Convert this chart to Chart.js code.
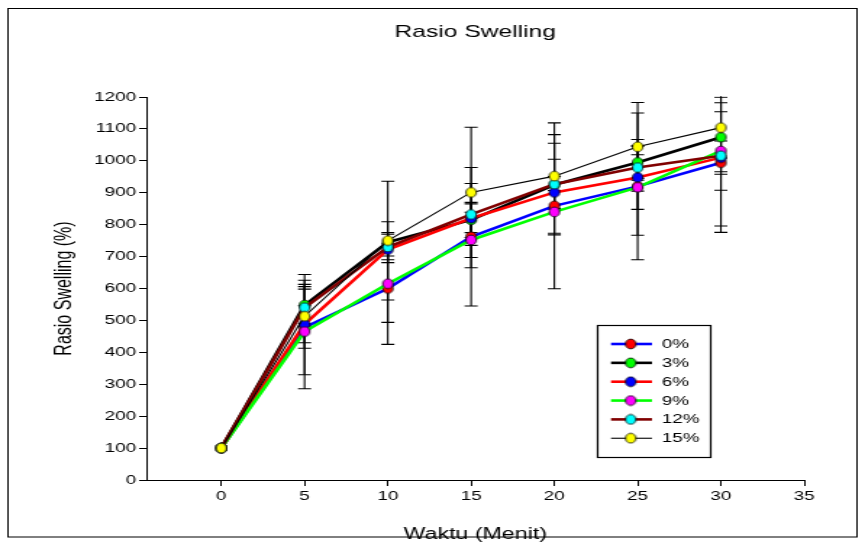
<!DOCTYPE html>
<html>
<head>
<meta charset="utf-8">
<script src="https://cdn.jsdelivr.net/npm/chart.js@4/dist/chart.umd.min.js"></script>
<style>
  html, body { margin: 0; padding: 0; background: #fff; overflow: hidden; }
  #wrap { width: 865px; height: 543px; overflow: hidden; position: relative; }
  #c { position: absolute; left: 0; top: 0; width: 597px; height: 543px; transform-origin: 0 0; transform: scaleX(1.448911); }
</style>
</head>
<body>
<div id="wrap"><canvas id="c" width="597" height="543"></canvas></div>
<script>
// ---------- data ----------
const chartTitle = 'Rasio Swelling';
const xTitle = 'Waktu (Menit)';
const yTitle = 'Rasio Swelling (%)';
const categories = [0, 5, 10, 15, 20, 25, 30];
const seriesNames = ['0%', '3%', '6%', '9%', '12%', '15%'];
const s0  = [100, 478, 600, 762, 859, 920, 994];
const s3  = [100, 548, 745, 815, 925, 995, 1074];
const s6  = [100, 488, 722, 820, 901, 948, 1010];
const s9  = [100, 465, 615, 752, 840, 917, 1031];
const s12 = [100, 540, 730, 832, 927, 979, 1016];
const s15 = [100, 513, 750, 901, 952, 1044, 1104];
const e0  = [0, 148, 175, 217, 260, 230, 218];
const e3  = [0, 58, 64, 55, 157, 50, 108];
const e6  = [0, 58, 20, 45, 50, 100, 52];
const e9  = [0, 179, 121, 87, 67, 150, 123];
const e12 = [0, 58, 40, 97, 78, 40, 220];
const e15 = [0, 100, 186, 204, 103, 139, 95];
const xTicks = [0, 5, 10, 15, 20, 25, 30, 35];
const yTicks = [0, 100, 200, 300, 400, 500, 600, 700, 800, 900, 1000, 1100, 1200];

const seriesValues = [s0, s3, s6, s9, s12, s15];
const seriesErrors = [e0, e3, e6, e9, e12, e15];

// ---------- styles ----------
const K = 865 / 597;          // horizontal stretch of the whole picture
const F = "'Liberation Sans', Arial, Helvetica, sans-serif";
const lineColors   = ['#0000ff', '#000000', '#ff0000', '#00ff00', '#800000', '#000000'];
const markerColors = ['#ff0000', '#00ff00', '#0000ff', '#ff00ff', '#00ffff', '#ffff00'];
const lineWidths   = [2.6, 2.6, 2.6, 2.6, 2.6, 1.1];

function markerImg(fill) {
  const c = document.createElement('canvas');
  c.width = 12; c.height = 12;
  const g = c.getContext('2d');
  g.beginPath();
  g.ellipse(6, 6, 5.2 / K, 4.9, 0, 0, Math.PI * 2);
  g.fillStyle = fill; g.fill();
  g.lineWidth = 0.8; g.strokeStyle = '#000'; g.stroke();
  return c;
}
const markers = markerColors.map(markerImg);

const datasets = seriesNames.map((name, i) => ({
  label: name,
  data: categories.map((x, j) => ({ x: x, y: seriesValues[i][j] })),
  borderColor: lineColors[i],
  borderWidth: lineWidths[i],
  pointStyle: markers[i],
  pointRadius: 5,
  tension: 0,
  fill: false,
  order: seriesNames.length - 1 - i
}));

const CAP = 4.5;
const errPlugin = {
  id: 'errbars',
  beforeDatasetsDraw(chart) {
    const { ctx, chartArea: a, scales: { x, y } } = chart;
    ctx.save();
    ctx.beginPath();
    ctx.rect(a.left, a.top - 0.6, a.right - a.left, a.bottom - a.top + 1.2);
    ctx.clip();
    ctx.strokeStyle = '#000';
    ctx.lineWidth = 1.1;
    seriesValues.forEach((vals, i) => {
      const errs = seriesErrors[i];
      vals.forEach((v, j) => {
        const e = errs[j];
        if (!e) return;
        const px = x.getPixelForValue(categories[j]);
        const top = y.getPixelForValue(v + e);
        const bot = y.getPixelForValue(v - e);
        ctx.beginPath();
        ctx.moveTo(px, top); ctx.lineTo(px, bot);
        ctx.moveTo(px - CAP, top); ctx.lineTo(px + CAP, top);
        ctx.moveTo(px - CAP, bot); ctx.lineTo(px + CAP, bot);
        ctx.stroke();
      });
    });
    ctx.restore();
  }
};

const framePlugin = {
  id: 'frame',
  afterDraw(chart) {
    const ctx = chart.ctx;
    ctx.save();
    ctx.strokeStyle = '#000';
    ctx.lineWidth = 1;
    ctx.strokeRect(5.5, 8.5, 586, 528.5);
    // legend
    const bx = 412.5, by = 325.5, bw = 78, bh = 132;
    ctx.fillStyle = '#fff';
    ctx.fillRect(bx, by, bw, bh);
    ctx.lineWidth = 1.2;
    ctx.strokeRect(bx, by, bw, bh);
    ctx.font = '13px ' + F;
    ctx.textBaseline = 'middle';
    ctx.textAlign = 'left';
    seriesNames.forEach((name, i) => {
      const yy = 344 + i * 18.85;
      ctx.beginPath();
      ctx.strokeStyle = lineColors[i];
      ctx.lineWidth = lineWidths[i];
      ctx.moveTo(421.7, yy); ctx.lineTo(450, yy);
      ctx.stroke();
      ctx.drawImage(markers[i], 435.3 - 6, yy - 6);
      ctx.fillStyle = '#000';
      ctx.fillText(name, 456.7, yy + 0.5);
    });
    ctx.restore();
  }
};

new Chart(document.getElementById('c'), {
  type: 'line',
  data: { datasets: datasets },
  options: {
    responsive: false,
    animation: false,
    devicePixelRatio: 1,
    layout: { padding: { left: 0, right: 42, top: 0, bottom: 0 } },
    plugins: {
      legend: { display: false },
      tooltip: { enabled: false },
      title: {
        display: true, text: chartTitle, fullSize: false, color: '#000',
        font: { family: F, size: 17, weight: 'normal' },
        padding: { top: 22, bottom: 54.6 }
      }
    },
    scales: {
      x: {
        type: 'linear', min: -4.5, max: 35,
        afterBuildTicks: s => { s.ticks = xTicks.map(v => ({ value: v })); },
        afterFit: s => { s.height = 63; },
        grid: { display: true, drawOnChartArea: false, drawTicks: true, tickLength: 6, color: '#000', lineWidth: 1 },
        border: { display: true, color: '#000', width: 1 },
        ticks: { color: '#000', font: { family: F, size: 13 }, padding: 3, maxRotation: 0, autoSkip: false,
                 callback: v => String(v) },
        title: { display: true, text: xTitle, color: '#000', font: { family: F, size: 16 }, padding: { top: 0, bottom: -1 } }
      },
      y: {
        type: 'linear', min: 0, max: 1200,
        afterBuildTicks: s => { s.ticks = yTicks.map(v => ({ value: v })); },
        afterFit: s => { s.width = 101; },
        grid: { display: true, drawOnChartArea: false, drawTicks: true, tickLength: 5, color: '#000', lineWidth: 1 },
        border: { display: true, color: '#000', width: 1 },
        ticks: { color: '#000', font: { family: F, size: 13 }, padding: 2, autoSkip: false,
                 callback: v => String(v) },
        title: { display: true, text: yTitle, color: '#000', font: { family: F, size: 16 }, padding: { top: 35, bottom: 0 } }
      }
    }
  },
  plugins: [errPlugin, framePlugin]
});
</script>
</body>
</html>
